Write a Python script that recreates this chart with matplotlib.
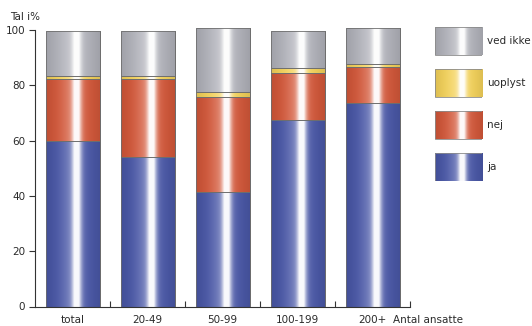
"""Andel virksomheder fordelt på antal ansatte - stablede søjler"""
import numpy as np
import matplotlib
matplotlib.use("Agg")
import matplotlib.pyplot as plt
from matplotlib.patches import Rectangle

# Data
kategorier = ["total", "20-49", "50-99", "100-199", "200+"]
ja = [60.0, 54.2, 41.4, 67.4, 73.5]
nej = [22.2, 28.0, 34.2, 17.2, 13.1]
uoplyst = [1.2, 1.2, 2.0, 1.8, 1.0]
ved_ikke = [16.2, 16.2, 23.1, 13.3, 13.1]

serier = ["ja", "nej", "uoplyst", "ved ikke"]
vaerdier = [ja, nej, uoplyst, ved_ikke]
farver = ["#4a58a8", "#d4583a", "#f5d35a", "#b2b3bb"]

plt.rcParams['font.family'] = ['DejaVu Sans']
TEKST = "#2a2a2a"

def gradient(farve, n=96):
    """Vandret gradient med hvid glans lidt til højre for midten"""
    rgb = np.array(matplotlib.colors.to_rgb(farve))
    t = np.linspace(0, 1, n)
    glans = 0.95 * np.exp(-((t - 0.57) / 0.085) ** 2) + 0.25 * np.exp(-((t - 0.5) / 0.22) ** 2)
    glans = np.clip(glans, 0, 0.97)
    mork = 1 - 0.10 * (np.abs(t - 0.5) * 2) ** 2
    rad = rgb[None, :] * mork[:, None] * (1 - glans[:, None]) + glans[:, None]
    return np.clip(rad[None, :, :], 0, 1)

fig = plt.figure(figsize=(5.32, 3.26), dpi=100)
ax = fig.add_axes([35 / 532, 1 - 306.5 / 326, 375 / 532, 282 / 326])

x = np.arange(len(kategorier))
bund = np.zeros(len(kategorier))
for navn, v, farve in zip(serier, vaerdier, farver):
    bars = ax.bar(x, v, bottom=bund, width=0.72, color=farve,
                  edgecolor="#5a5a5a", linewidth=0.6, zorder=2)
    for p in bars:
        x0, y0 = p.get_x(), p.get_y()
        im = ax.imshow(gradient(farve), extent=[x0, x0 + p.get_width(), y0, y0 + p.get_height()],
                       aspect="auto", zorder=2.5, interpolation="bilinear")
        im.set_clip_path(p)
        kant = Rectangle((x0, y0), p.get_width(), p.get_height(), fill=False,
                         edgecolor="#6e6e6e", linewidth=0.6, zorder=3)
        ax.add_patch(kant)
    bund += np.array(v)

ax.set_xlim(-0.5, 4.5)
ax.set_ylim(0, 102)
ax.spines["top"].set_visible(False)
ax.spines["right"].set_visible(False)
ax.spines["left"].set_bounds(0, 100)
for s in ("left", "bottom"):
    ax.spines[s].set_color("#333333")
    ax.spines[s].set_linewidth(0.8)

ax.set_yticks(range(0, 101, 20))
ax.tick_params(axis="y", direction="out", length=4, width=0.8, colors="#333333",
               labelsize=7.5, labelcolor=TEKST, pad=3)
ax.set_xticks(x)
ax.set_xticklabels(kategorier)
ax.set_xticks(np.arange(0.5, 5, 1), minor=True)
ax.tick_params(axis="x", which="major", length=0, labelsize=7.5, labelcolor=TEKST, pad=6)
ax.tick_params(axis="x", which="minor", direction="in", length=4, width=0.8, colors="#333333")

fig.text(10 / 532, 1 - 17 / 326, "Tal i%", fontsize=7.5, color=TEKST, va="center", ha="left")
fig.text(393 / 532, 1 - 320 / 326, "Antal ansatte", fontsize=7.5, color=TEKST, va="center", ha="left")

# Forklaring
lax = fig.add_axes([435 / 532, 1 - 181 / 326, 47 / 532, 154 / 326])
lax.axis("off")
for i, (navn, farve) in enumerate(zip(serier, farver)):
    y0 = 42 * i
    r = Rectangle((0, y0), 1, 28, facecolor=farve, edgecolor="none", zorder=1)
    lax.add_patch(r)
    im = lax.imshow(gradient(farve), extent=[0, 1, y0, y0 + 28], aspect="auto",
                    interpolation="bilinear", zorder=2)
    im.set_clip_path(r)
    lax.add_patch(Rectangle((0, y0), 1, 28, fill=False, edgecolor="#8a8a8a",
                            linewidth=0.6, zorder=3))
    lax.text(1.11, y0 + 14, navn, fontsize=7.5, color=TEKST, va="center", ha="left")
lax.set_xlim(0, 1)
lax.set_ylim(0, 154)

fig.savefig("out.png", dpi=100)
